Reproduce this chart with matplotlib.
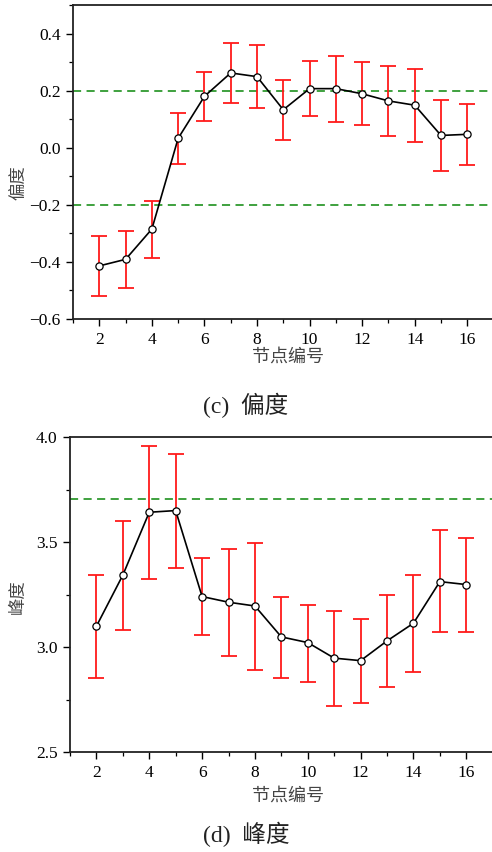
import matplotlib
matplotlib.use("Agg")
import matplotlib.pyplot as plt
from matplotlib.ticker import MultipleLocator
import numpy as np

# node index
nodes = [2, 3, 4, 5, 6, 7, 8, 9, 10, 11, 12, 13, 14, 15, 16]

# skewness: mean, upper and lower bound of the interval
skew_mean = [-0.414, -0.391, -0.285, 0.033, 0.180, 0.262, 0.249, 0.133, 0.207, 0.207,
             0.189, 0.164, 0.149, 0.043, 0.047]
skew_upper = [-0.309, -0.292, -0.187, 0.123, 0.267, 0.367, 0.361, 0.239, 0.303, 0.322,
              0.301, 0.285, 0.276, 0.168, 0.153]
skew_lower = [-0.520, -0.490, -0.385, -0.058, 0.092, 0.157, 0.138, 0.026, 0.110, 0.089,
              0.078, 0.040, 0.019, -0.083, -0.062]
skew_refs = [0.2, -0.2]

# kurtosis: mean, upper and lower bound of the interval
kurt_mean = [3.100, 3.343, 3.642, 3.650, 3.241, 3.214, 3.196, 3.049, 3.022, 2.948,
             2.936, 3.030, 3.114, 3.312, 3.298]
kurt_upper = [3.344, 3.602, 3.958, 3.921, 3.426, 3.469, 3.498, 3.241, 3.203, 3.173,
              3.136, 3.247, 3.344, 3.557, 3.519]
kurt_lower = [2.855, 3.084, 3.326, 3.379, 3.059, 2.960, 2.892, 2.855, 2.836, 2.721,
              2.734, 2.811, 2.881, 3.070, 3.073]
kurt_refs = [3.707]

W, H = 492, 852
fig = plt.figure(figsize=(W / 100, H / 100), dpi=100)

serif = "Liberation Serif"
cjk = ["Noto Sans CJK SC", "DejaVu Sans"]


def panel(rect, mean, upper, lower, refs, ylim, major, minor, yfmt):
    l, r, t, b = rect
    ax = fig.add_axes([l / W, 1 - b / H, (r - l) / W, (b - t) / H])
    x = np.array(nodes)
    m = np.array(mean)
    yerr = [m - np.array(lower), np.array(upper) - m]
    for ref in refs:
        ax.axhline(ref, color="#2f9a2f", lw=1.3, ls=(0, (4.5, 3)), zorder=1)
    ax.errorbar(x, m, yerr=yerr, fmt="none", ecolor="#ff1a1a", elinewidth=1.3,
                capsize=5.5, capthick=1.3, zorder=2)
    ax.plot(x, m, color="black", lw=1.2, marker="o", ms=5.2, mfc="white",
            mec="black", mew=0.9, zorder=3)
    ax.set_xlim(1, 17)
    ax.set_ylim(*ylim)
    ax.xaxis.set_major_locator(MultipleLocator(2))
    ax.xaxis.set_minor_locator(MultipleLocator(1))
    ax.yaxis.set_major_locator(MultipleLocator(major))
    ax.yaxis.set_minor_locator(MultipleLocator(minor))
    ax.spines["right"].set_visible(False)
    for s in ("left", "bottom", "top"):
        ax.spines[s].set_linewidth(1.3)
        ax.spines[s].set_color("#222222")
    ax.tick_params(which="major", direction="out", length=5, width=1.0,
                   labelsize=12.5, pad=4)
    ax.tick_params(which="minor", direction="out", length=3, width=0.9)
    ticks = [v for v in np.arange(ylim[0], ylim[1] + 1e-9, major)
             if v <= ylim[1] - (0.05 if major < 0.5 else 0) + 1e-9]
    ax.set_yticks(ticks)
    ax.set_yticklabels([yfmt(v) for v in ticks])
    for lab in ax.get_xticklabels() + ax.get_yticklabels():
        lab.set_fontfamily(serif)
    return ax


def fmt(v):
    s = f"{v:.1f}"
    if s == "-0.0":
        s = "0.0"
    return s.replace("-", "\u2212")


ax1 = panel((73, 493.6, 5, 319), skew_mean, skew_upper, skew_lower, skew_refs,
            (-0.6, 0.5), 0.2, 0.1, fmt)
ax2 = panel((70, 492.7, 437, 752.3), kurt_mean, kurt_upper, kurt_lower, kurt_refs,
            (2.5, 4.0), 0.5, 0.25, fmt)

# axis titles and captions
fig.text(18 / W, 1 - 183 / H, "偏度", rotation=90, ha="center", va="center",
         family=cjk, fontsize=12.5, color="#444444")
fig.text(288 / W, 1 - 357 / H, "节点编号", ha="center", va="center",
         family=cjk, fontsize=13, color="#444444")
fig.text(246 / W, 1 - 405 / H, "(c)  偏度", ha="center", va="center",
         family=[serif] + cjk, fontsize=17, color="#222222")

fig.text(18 / W, 1 - 597 / H, "峰度", rotation=90, ha="center", va="center",
         family=cjk, fontsize=12.5, color="#444444")
fig.text(288 / W, 1 - 796 / H, "节点编号", ha="center", va="center",
         family=cjk, fontsize=13, color="#444444")
fig.text(246 / W, 1 - 834 / H, "(d)  峰度", ha="center", va="center",
         family=[serif] + cjk, fontsize=17, color="#222222")

fig.savefig("out.png", dpi=100)
